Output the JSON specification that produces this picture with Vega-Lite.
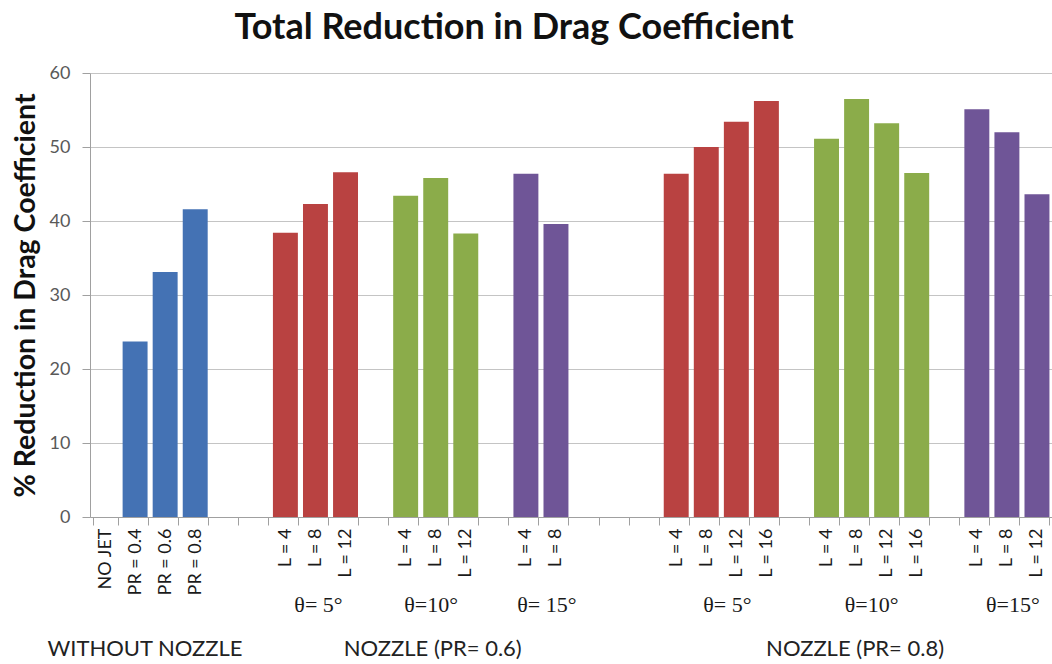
{
  "$schema": "https://vega.github.io/schema/vega-lite/v6.json",
  "width": 962,
  "height": 444,
  "autosize": {"type": "none"},
  "padding": {"left": 90, "top": 73, "right": 0, "bottom": 147},
  "background": "white",
  "title": {"text": "Total Reduction in Drag Coefficient", "font": "Lato", "fontSize": 36, "fontWeight": "bold", "color": "#111111", "anchor": "middle", "dx": -57, "offset": 17},
  "config": {"view": {"stroke": null}},
  "layer": [
    {
      "data": {"values": [
        {"slot": "01|NO JET", "series": "none", "value": 0},
        {"slot": "02|PR = 0.4", "series": "none", "value": 23.7},
        {"slot": "03|PR = 0.6", "series": "none", "value": 33.1},
        {"slot": "04|PR = 0.8", "series": "none", "value": 41.6},
        {"slot": "07|L = 4", "series": "t5", "value": 38.4},
        {"slot": "08|L = 8", "series": "t5", "value": 42.3},
        {"slot": "09|L = 12", "series": "t5", "value": 46.6},
        {"slot": "11|L = 4", "series": "t10", "value": 43.4},
        {"slot": "12|L = 8", "series": "t10", "value": 45.8},
        {"slot": "13|L = 12", "series": "t10", "value": 38.3},
        {"slot": "15|L = 4", "series": "t15", "value": 46.4},
        {"slot": "16|L = 8", "series": "t15", "value": 39.6},
        {"slot": "20|L = 4", "series": "t5", "value": 46.4},
        {"slot": "21|L = 8", "series": "t5", "value": 50.0},
        {"slot": "22|L = 12", "series": "t5", "value": 53.4},
        {"slot": "23|L = 16", "series": "t5", "value": 56.2},
        {"slot": "25|L = 4", "series": "t10", "value": 51.1},
        {"slot": "26|L = 8", "series": "t10", "value": 56.5},
        {"slot": "27|L = 12", "series": "t10", "value": 53.2},
        {"slot": "28|L = 16", "series": "t10", "value": 46.5},
        {"slot": "30|L = 4", "series": "t15", "value": 55.1},
        {"slot": "31|L = 8", "series": "t15", "value": 52.0},
        {"slot": "32|L = 12", "series": "t15", "value": 43.6}
      ]},
      "mark": {"type": "bar"},
      "encoding": {
        "x": {
          "field": "slot", "type": "nominal",
          "scale": {
            "domain": ["01|NO JET", "02|PR = 0.4", "03|PR = 0.6", "04|PR = 0.8", "05|", "06|", "07|L = 4", "08|L = 8", "09|L = 12", "10|", "11|L = 4", "12|L = 8", "13|L = 12", "14|", "15|L = 4", "16|L = 8", "17|", "18|", "19|", "20|L = 4", "21|L = 8", "22|L = 12", "23|L = 16", "24|", "25|L = 4", "26|L = 8", "27|L = 12", "28|L = 16", "29|", "30|L = 4", "31|L = 8", "32|L = 12"],
            "paddingInner": 0.17, "paddingOuter": 0.085
          },
          "axis": {
            "title": null, "labelAngle": -90, "labelExpr": "split(datum.label, '|')[1]",
            "labelFont": "Lato", "labelFontSize": 18, "labelColor": "#1a1a1a", "labelPadding": 3,
            "tickBand": "extent", "tickSize": 8, "tickColor": "#a0a0a0", "domainColor": "#a0a0a0", "grid": false, "labelOverlap": false
          }
        },
        "y": {
          "field": "value", "type": "quantitative",
          "scale": {"domain": [0, 60], "nice": false},
          "axis": {
            "title": "% Reduction in Drag Coefficient", "titleFont": "Lato", "titleFontSize": 28.5, "titleFontWeight": "bold", "titleColor": "#111111", "titlePadding": 9,
            "values": [0, 10, 20, 30, 40, 50, 60], "labelFont": "Lato", "labelFontSize": 18, "labelColor": "#595959", "labelPadding": 12,
            "tickSize": 8, "tickColor": "#a0a0a0", "domainColor": "#a0a0a0", "gridColor": "#c4c4c4", "grid": true
          }
        },
        "color": {
          "field": "series", "type": "nominal",
          "scale": {"domain": ["none", "t5", "t10", "t15"], "range": ["#4472b4", "#b94241", "#8bac4a", "#6f5597"]},
          "legend": null
        }
      }
    },
    {
      "data": {"values": [
        {"label": "θ= 5°", "center": 7.6},
        {"label": "θ=10°", "center": 11.35},
        {"label": "θ= 15°", "center": 15.2},
        {"label": "θ= 5°", "center": 21.2},
        {"label": "θ=10°", "center": 26.0},
        {"label": "θ=15°", "center": 30.7}
      ]},
      "mark": {"type": "text", "font": "Liberation Serif", "fontSize": 22, "baseline": "middle", "align": "center", "color": "#1a1a1a"},
      "encoding": {
        "x": {"field": "center", "type": "quantitative", "scale": {"domain": [0, 32], "nice": false, "zero": false}, "axis": null},
        "y": {"datum": -11.9, "type": "quantitative", "scale": {"domain": [0, 60], "nice": false}},
        "text": {"field": "label"}
      }
    },
    {
      "data": {"values": [
        {"label": "WITHOUT NOZZLE", "center": 1.83},
        {"label": "NOZZLE (PR= 0.6)", "center": 11.4},
        {"label": "NOZZLE (PR= 0.8)", "center": 25.45}
      ]},
      "mark": {"type": "text", "font": "Lato", "fontSize": 22, "baseline": "middle", "align": "center", "color": "#222222"},
      "encoding": {
        "x": {"field": "center", "type": "quantitative", "scale": {"domain": [0, 32], "nice": false, "zero": false}, "axis": null},
        "y": {"datum": -17.8, "type": "quantitative", "scale": {"domain": [0, 60], "nice": false}},
        "text": {"field": "label"}
      }
    }
  ],
  "resolve": {"scale": {"x": "independent"}}
}
